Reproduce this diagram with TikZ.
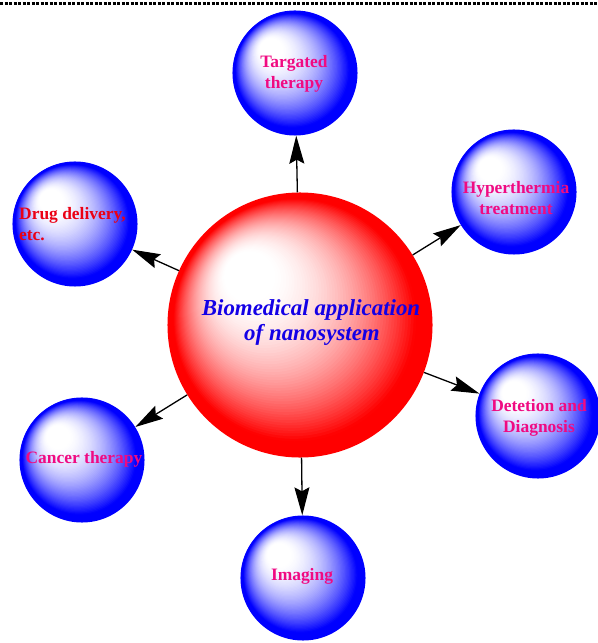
\documentclass[tikz,border=0pt]{standalone}
\usepackage{fontspec}
\setmainfont{Liberation Serif}
\usetikzlibrary{arrows.meta}
\definecolor{pinktxt}{RGB}{240,10,130}
\definecolor{redtxt}{RGB}{235,0,20}
\definecolor{bluetxt}{RGB}{20,0,230}
% #1,#2 centre (px), #3 radius (px), #4 colour
\newcommand\mysphere[4]{%
  \foreach \bI in {0,...,72}{%
    \pgfmathsetmacro\bT{\bI/72}%
    \pgfmathsetmacro\bR{#3*(1-\bT)+0.01}%
    \pgfmathsetmacro\bX{#1-0.47*#3*\bT}%
    \pgfmathsetmacro\bY{#2-0.45*#3*\bT}%
    \pgfmathsetmacro\bQ{max(0,min(1,(0.8-\bT)/0.72))}%
    \pgfmathsetmacro\bP{100*\bQ*(0.25+0.75*\bQ)}%
    \fill[#4!\bP!white] (\bX,\bY) circle[radius=\bR bp];
  }}
\begin{document}
\begin{tikzpicture}[x=1bp,y=-1bp,
  bsphere/.style={circle, minimum size=125bp, inner sep=0pt},
  rsphere/.style={circle, minimum size=265bp, inner sep=0pt},
  lbl/.style={text=pinktxt, font=\fontsize{17.5}{20.5}\selectfont\bfseries, inner sep=0pt},
  ctxt/.style={text=bluetxt, font=\fontsize{23}{25}\selectfont\bfseries\itshape, inner sep=0pt, anchor=base},
  conn/.style={draw=black, line width=1.3bp, -{Stealth[length=28bp,width=15bp,inset=4bp]}}
]
\useasboundingbox (0,0) rectangle (598,643);
\draw[line width=3bp, dash pattern=on 3bp off 1.5bp] (0,3.5) -- (598,3.5);

\mysphere{300}{325}{132.5}{red}
\mysphere{295}{73}{62.5}{blue}
\mysphere{514}{192}{62.5}{blue}
\mysphere{75}{224}{62.5}{blue}
\mysphere{538}{416}{62.5}{blue}
\mysphere{82}{460}{62.5}{blue}
\mysphere{303}{578}{62.5}{blue}

\node[rsphere] (c) at (300,325) {};
\node[bsphere] (t) at (295,73) {};
\node[bsphere] (h) at (514,192) {};
\node[bsphere] (d) at (75,224) {};
\node[bsphere] (dd) at (538,416) {};
\node[bsphere] (ca) at (82,460) {};
\node[bsphere] (im) at (303,578) {};

\draw[conn] (c) -- (t);
\draw[conn] (c) -- (h);
\draw[conn] (c) -- (d);
\draw[conn] (c) -- (dd);
\draw[conn] (c) -- (ca);
\draw[conn] (c) -- (im);

\node[lbl, align=center] (tt) at (294,74) {Targated\\therapy};
\node[lbl, align=center] (ht) at (516,198) {Hyperthermia\\treatment};
\node[lbl, align=left, anchor=west, text=redtxt] (dt) at (19,224) {Drug delivery,\\etc.};
\node[lbl, align=center] (ddt) at (539,418) {Detetion and\\Diagnosis};
\node[lbl, anchor=base] (cat) at (84,463) {Cancer therapy};
\node[lbl, anchor=base] (imt) at (302,580) {Imaging};
\node[ctxt] (c1) at (311,315) {Biomedical application};
\node[ctxt] (c2) at (312,340) {of nanosystem};
\end{tikzpicture}
\end{document}
